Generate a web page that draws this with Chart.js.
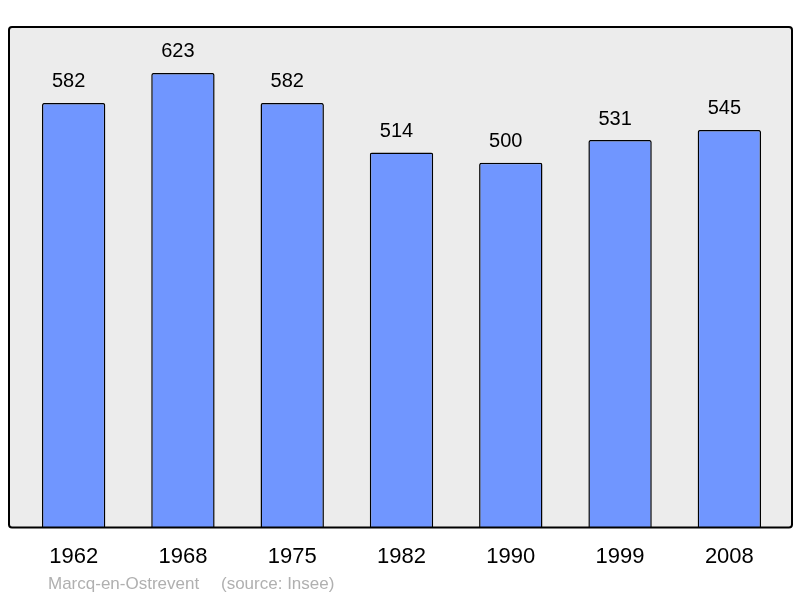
<!DOCTYPE html>
<html>
<head>
<meta charset="utf-8">
<script src="https://cdn.jsdelivr.net/npm/chart.js@4/dist/chart.umd.min.js"></script>
<style>
html,body{margin:0;padding:0;background:#fff;}
canvas{display:block;}
</style>
</head>
<body>
<canvas id="c" width="800" height="598"></canvas>
<script>
const categories = ['1962','1968','1975','1982','1990','1999','2008'];
const population = [582, 623, 582, 514, 500, 531, 545];
const footerName = 'Marcq-en-Ostrevent';
const footerSource = '(source: Insee)';

const FONT = '"Liberation Sans", Arial, sans-serif';

const framePlugin = {
  id: 'frame',
  beforeDatasetsDraw(chart) {
    const {ctx, chartArea: a} = chart;
    const x0 = a.left - 10, x1 = a.right + 8, y0 = a.top, y1 = a.bottom;
    ctx.save();
    ctx.beginPath();
    ctx.roundRect(x0, y0, x1 - x0, y1 - y0, 3);
    ctx.fillStyle = '#ececec';
    ctx.fill();
    ctx.restore();
  },
  afterDatasetsDraw(chart) {
    const {ctx, chartArea: a} = chart;
    const x0 = a.left - 10, x1 = a.right + 8, y0 = a.top, y1 = a.bottom;
    ctx.save();
    ctx.beginPath();
    ctx.roundRect(x0, y0, x1 - x0, y1 - y0, 3);
    ctx.lineWidth = 2;
    ctx.strokeStyle = '#000';
    ctx.stroke();
    const meta = chart.getDatasetMeta(0);
    ctx.fillStyle = '#000';
    ctx.font = '20px ' + FONT;
    ctx.textAlign = 'center';
    ctx.textBaseline = 'middle';
    meta.data.forEach((bar, i) => {
      ctx.fillText(String(chart.data.datasets[0].data[i]), bar.x - 5, bar.y - 21);
    });
    ctx.fillStyle = '#b0b0b0';
    ctx.font = '17px ' + FONT;
    ctx.textAlign = 'left';
    ctx.fillText(footerName, 48, 584);
    ctx.fillText(footerSource, 221, 584);
    ctx.restore();
  }
};

new Chart(document.getElementById('c'), {
  type: 'bar',
  data: {
    labels: categories,
    datasets: [{
      data: population,
      backgroundColor: '#7096ff',
      borderColor: '#000',
      borderWidth: 1.5,
      borderSkipped: 'bottom',
      borderRadius: {topLeft: 2, topRight: 2, bottomLeft: 0, bottomRight: 0},
      categoryPercentage: 1,
      barPercentage: 0.58
    }]
  },
  options: {
    responsive: false,
    animation: false,
    layout: {padding: {left: 19, right: 16, top: 27, bottom: 12}},
    plugins: {legend: {display: false}, tooltip: {enabled: false}, title: {display: false}},
    scales: {
      x: {
        grid: {display: false, drawTicks: false},
        border: {display: false},
        ticks: {color: '#000', font: {size: 22, family: FONT}, padding: 16, maxRotation: 0}
      },
      y: {
        display: false,
        min: 0,
        max: 686
      }
    }
  },
  plugins: [framePlugin]
});
</script>
</body>
</html>
